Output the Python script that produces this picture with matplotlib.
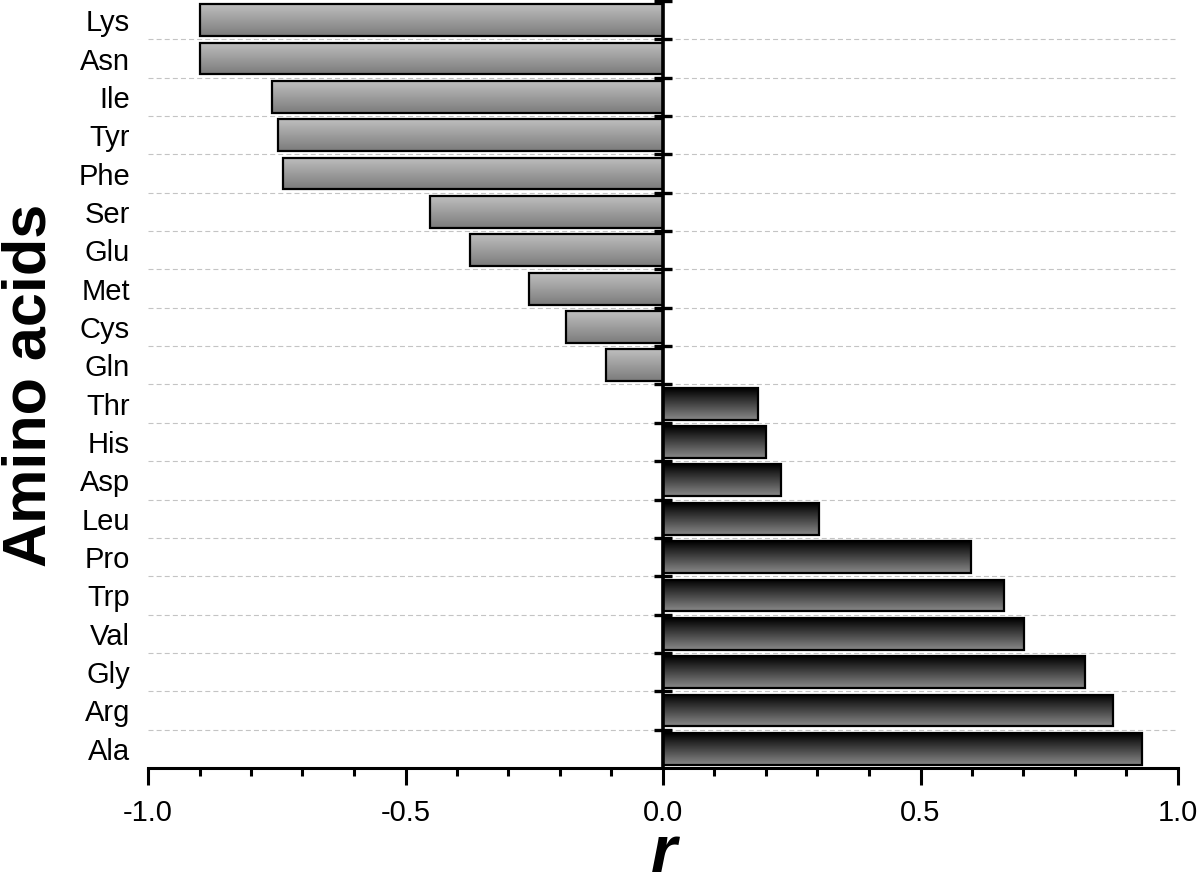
import matplotlib
matplotlib.use("Agg")
import matplotlib.pyplot as plt
from matplotlib.colors import LinearSegmentedColormap
import numpy as np

plt.rcParams['font.family'] = ['Liberation Sans', 'DejaVu Sans']

# amino acids, top to bottom, and their correlation r
amino_acids = ['Lys', 'Asn', 'Ile', 'Tyr', 'Phe', 'Ser', 'Glu', 'Met', 'Cys', 'Gln',
               'Thr', 'His', 'Asp', 'Leu', 'Pro', 'Trp', 'Val', 'Gly', 'Arg', 'Ala']
r_values = [-0.899, -0.899, -0.760, -0.748, -0.737, -0.453, -0.374, -0.260, -0.188, -0.110,
            0.185, 0.200, 0.230, 0.302, 0.598, 0.662, 0.700, 0.819, 0.874, 0.930]
x_ticks = [-1.0, -0.5, 0.0, 0.5, 1.0]
x_ticklabels = ['-1.0', '-0.5', '0.0', '0.5', '1.0']

fig = plt.figure(figsize=(12, 8.85), dpi=100)
ax = fig.add_axes([148 / 1200, 1 - 768 / 885, 1030 / 1200, 767 / 885])

pos = np.arange(len(amino_acids))
h = 0.83

# vertical gradients: grey bars for negative r, black-to-grey for positive r
neg_cmap = LinearSegmentedColormap.from_list('neg', ['#bebebe', '#7c7c7c'])
pos_cmap = LinearSegmentedColormap.from_list('pos', ['#000000', '#888888'])
grad = np.linspace(0, 1, 64).reshape(-1, 1)

for i, v in zip(pos, r_values):
    cmap = neg_cmap if v < 0 else pos_cmap
    ax.imshow(grad, cmap=cmap, extent=(0, v, i + h / 2, i - h / 2),
              aspect='auto', interpolation='bilinear', zorder=2)

ax.barh(pos, r_values, height=h, facecolor='none', edgecolor='black',
        linewidth=1.6, zorder=3)

# dashed separators between rows
bounds = np.arange(len(amino_acids) - 1) + 0.5
ax.hlines(bounds, -1, 1, colors='#c4c4c4', linestyles=(0, (4.5, 2.8)),
          linewidth=0.8, zorder=1)

# central axis at r = 0 with ticks at row boundaries
ax.axvline(0, color='black', linewidth=2.6, zorder=4)
tick_bounds = np.arange(len(amino_acids)) - 0.5
ax.plot(np.zeros_like(tick_bounds), tick_bounds, linestyle='none', marker='_',
        markersize=12.5, markeredgewidth=2.4, color='black', zorder=5, clip_on=False)

ax.set_xlim(-1.0, 1.0)
ax.set_ylim(len(amino_acids) - 0.5, -0.5)

ax.set_yticks(pos, amino_acids)
ax.tick_params(axis='y', length=0, pad=13, labelsize=21)
ax.set_xticks(x_ticks, x_ticklabels)
ax.set_xticks(np.arange(-1.0, 1.01, 0.1), minor=True)
ax.tick_params(axis='x', which='major', length=12, width=2.2, labelsize=21, pad=10)
ax.tick_params(axis='x', which='minor', length=6, width=2.2)

for s in ['top', 'right', 'left']:
    ax.spines[s].set_visible(False)
ax.spines['bottom'].set_linewidth(2.2)

fig.text(30 / 1200, 0.565, 'Amino acids', rotation=90, ha='center', va='center',
         fontsize=44, fontweight='bold')
fig.text(664 / 1200, 1 - 872 / 885, 'r', ha='center', va='baseline',
         fontsize=48, fontweight='bold', fontstyle='italic')

fig.savefig('out.png', dpi=100)
